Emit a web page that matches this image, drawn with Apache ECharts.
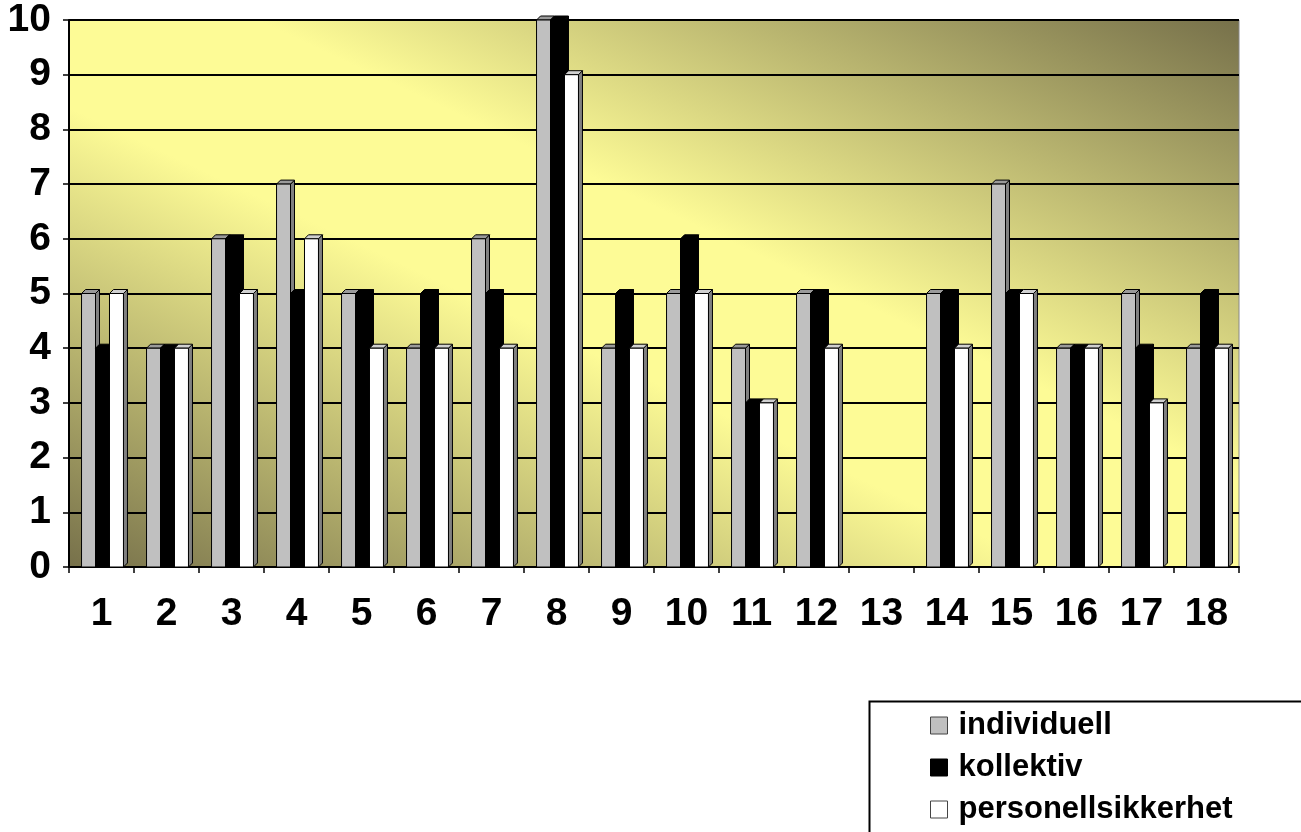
<!DOCTYPE html>
<html>
<head>
<meta charset="utf-8">
<script src="https://cdn.jsdelivr.net/npm/echarts@6/dist/echarts.min.js"></script>
<style>
  html, body { margin: 0; padding: 0; background: #fff; }
  #chart { width: 1301px; height: 832px; }
</style>
</head>
<body>
<div id="chart"></div>
<script>
var categories = ['1','2','3','4','5','6','7','8','9','10','11','12','13','14','15','16','17','18'];
var individuell = [5,4,6,7,5,4,6,10,4,5,4,5,0,5,7,4,5,4];
var kollektiv = [4,4,6,5,5,5,5,10,5,6,3,5,0,5,5,4,4,5];
var personellsikkerhet = [5,4,5,6,4,4,4,9,4,5,3,4,0,4,5,4,3,4];
var seriesNames = ['individuell', 'kollektiv', 'personellsikkerhet'];
var yTicks = [0,1,2,3,4,5,6,7,8,9,10];

var faces = [
    {front: '#c0c0c0', top: '#9a9a9a', side: '#808080'},
    {front: '#000000', top: '#000000', side: '#000000'},
    {front: '#ffffff', top: '#d0d0d0', side: '#808080'}
];

var font = 'Arial, "Liberation Sans", sans-serif';

// 3D-ish bar: front, top face and right side
function makeRender(k) {
    return function (params, api) {
        var v = api.value(1);
        if (!v) return;
        var base = api.coord([api.value(0), 0]);
        var top = api.coord([api.value(0), v]);
        var cw = api.size([1, 0])[0];
        var bw = cw * 0.215;
        var d = 4;
        var x0 = base[0] - 1.5 * bw + k * bw + 1;
        var c = faces[k];
        var st = {stroke: '#000', lineWidth: 1};
        return {
            type: 'group',
            children: [
                {type: 'polygon', shape: {points: [[x0 + bw, top[1]], [x0 + bw + d, top[1] - d], [x0 + bw + d, base[1] - d], [x0 + bw, base[1]]]},
                    style: Object.assign({fill: c.side}, st)},
                {type: 'polygon', shape: {points: [[x0, top[1]], [x0 + d, top[1] - d], [x0 + bw + d, top[1] - d], [x0 + bw, top[1]]]},
                    style: Object.assign({fill: c.top}, st)},
                {type: 'rect', shape: {x: x0, y: top[1], width: bw, height: base[1] - top[1]},
                    style: Object.assign({fill: c.front}, st)}
            ]
        };
    };
}

var allData = [individuell, kollektiv, personellsikkerhet];
var series = allData.map(function (arr, k) {
    return {
        name: seriesNames[k],
        type: 'custom',
        renderItem: makeRender(k),
        color: faces[k].front,
        itemStyle: {color: faces[k].front, borderColor: '#000', borderWidth: 1},
        encode: {x: 0, y: 1},
        data: arr.map(function (v, i) { return [i, v]; })
    };
});

var myChart = echarts.init(document.getElementById('chart'));
var option = {
    animation: false,
    backgroundColor: '#ffffff',
    grid: {
        left: 69,
        right: 62,
        top: 20,
        height: 547,
        show: true,
        borderColor: '#888888',
        borderWidth: 1,
        backgroundColor: new echarts.graphic.LinearGradient(867, -155, 445, 745, [
            {offset: 0, color: '#76704a'},
            {offset: 0.42, color: '#fdfb96'},
            {offset: 0.58, color: '#fdfb96'},
            {offset: 1, color: '#76704a'}
        ], true)
    },
    graphic: [{
        type: 'rect',
        left: 867,
        top: 699,
        shape: {width: 500, height: 200},
        style: {fill: 'none', stroke: '#000', lineWidth: 2},
        silent: true
    }],
    legend: {
        orient: 'vertical',
        left: 930,
        top: 710,
        padding: 0,
        itemGap: 11,
        itemWidth: 17,
        itemHeight: 17,
        icon: 'rect',
        textStyle: {fontFamily: font, fontWeight: 'bold', fontSize: 31, color: '#000', padding: [0, 0, 0, 6]},
        data: seriesNames.map(function (n, k) {
            return {name: n, itemStyle: {color: faces[k].front, borderColor: faces[k].front === '#000000' ? '#000' : '#444', borderWidth: 1}};
        })
    },
    xAxis: {
        type: 'category',
        data: categories,
        boundaryGap: true,
        axisLine: {lineStyle: {color: '#000', width: 2}},
        axisTick: {show: true, length: 6, lineStyle: {color: '#000', width: 1.5}},
        axisLabel: {interval: 0, margin: 28, color: '#000', fontFamily: font, fontWeight: 'bold', fontSize: 39},
        splitLine: {show: false}
    },
    yAxis: {
        type: 'value',
        min: 0,
        max: 10,
        interval: 1,
        axisLine: {show: true, lineStyle: {color: '#000', width: 2}},
        axisTick: {show: true, length: 6, lineStyle: {color: '#000', width: 1.5}},
        axisLabel: {margin: 18, color: '#000', fontFamily: font, fontWeight: 'bold', fontSize: 39, verticalAlign: 'middle', padding: [6, 0, 0, 0],
            formatter: function (v) { return yTicks.indexOf(v) >= 0 ? String(v) : ''; }},
        splitLine: {show: true, lineStyle: {color: '#000', width: 2}}
    },
    series: series
};
myChart.setOption(option);
window.addEventListener('resize', function () {
    myChart.resize();
});
</script>
</body>
</html>
